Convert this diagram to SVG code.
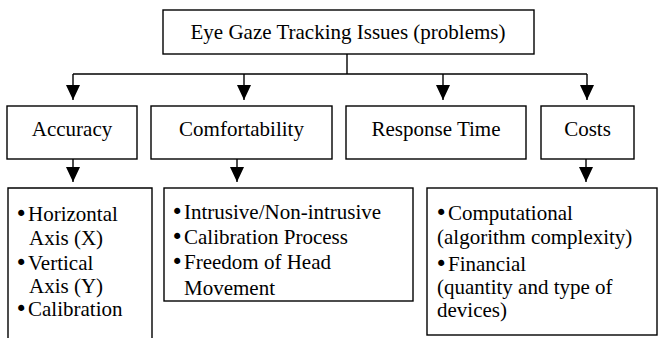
<svg xmlns="http://www.w3.org/2000/svg" width="660" height="338" viewBox="0 0 660 338">
  <defs>
    <style>
      .box { fill: #fff; stroke: #000; stroke-width: 1.4; }
      .lbl { font-family: "Liberation Serif", "Times New Roman", serif; font-size: 21px; fill: #000; }
      .dot { font-family: "DejaVu Sans", sans-serif; }
      .mid { text-anchor: middle; }
      .wire { fill: none; stroke: #000; stroke-width: 1.4; }
    </style>
    <marker id="head" viewBox="0 0 15 14" refX="15" refY="7" markerWidth="15" markerHeight="14" markerUnits="userSpaceOnUse" orient="auto">
      <path d="M0,0 L15,7 L0,14 Z" fill="#000"/>
    </marker>
    <clipPath id="clipComfort">
      <rect x="160" y="186" width="260" height="111"/>
    </clipPath>
  </defs>

  <!-- connectors -->
  <g id="connectors" class="wire">
    <path d="M347,54 V74"/>
    <path d="M73,74 H587"/>
    <path d="M73,74 V100" marker-end="url(#head)"/>
    <path d="M244,74 V100" marker-end="url(#head)"/>
    <path d="M443,74 V100" marker-end="url(#head)"/>
    <path d="M587,74 V100" marker-end="url(#head)"/>
    <path d="M73,159 V182" marker-end="url(#head)"/>
    <path d="M237,159 V182" marker-end="url(#head)"/>
    <path d="M586,159 V182" marker-end="url(#head)"/>
  </g>

  <g id="root">
    <rect class="box" x="163" y="10" width="371" height="44"/>
    <text class="lbl mid" x="348" y="39">Eye Gaze Tracking Issues (problems)</text>
  </g>

  <g id="accuracy">
    <rect class="box" x="7" y="106" width="130" height="53"/>
    <text class="lbl mid" x="72" y="136">Accuracy</text>
  </g>
  <g id="comfortability">
    <rect class="box" x="151" y="106" width="181" height="53"/>
    <text class="lbl mid" x="241.5" y="136">Comfortability</text>
  </g>
  <g id="response-time">
    <rect class="box" x="346" y="106" width="180" height="53"/>
    <text class="lbl mid" x="436" y="136">Response Time</text>
  </g>
  <g id="costs">
    <rect class="box" x="541" y="106" width="93" height="53"/>
    <text class="lbl mid" x="587.5" y="136">Costs</text>
  </g>

  <g id="accuracy-items">
    <path class="wire" d="M8,340 V188 H152 V340"/>
    <text class="lbl" y="221"><tspan class="dot" x="15">•</tspan><tspan x="28">Horizontal</tspan></text>
    <text class="lbl" x="29" y="244.5">Axis (X)</text>
    <text class="lbl" y="270"><tspan class="dot" x="15">•</tspan><tspan x="28">Vertical</tspan></text>
    <text class="lbl" x="29" y="293">Axis (Y)</text>
    <text class="lbl" y="316"><tspan class="dot" x="15">•</tspan><tspan x="28">Calibration</tspan></text>
  </g>

  <g id="comfortability-items">
    <rect class="box" x="164" y="188" width="249" height="113"/>
    <g clip-path="url(#clipComfort)">
      <text class="lbl" y="219"><tspan class="dot" x="171">•</tspan><tspan x="184">Intrusive/Non-intrusive</tspan></text>
      <text class="lbl" y="244"><tspan class="dot" x="171">•</tspan><tspan x="184">Calibration Process</tspan></text>
      <text class="lbl" y="269"><tspan class="dot" x="171">•</tspan><tspan x="184">Freedom of Head</tspan></text>
      <text class="lbl" x="184" y="295">Movement</text>
    </g>
  </g>

  <g id="costs-items">
    <rect class="box" x="427" y="188" width="230" height="147"/>
    <text class="lbl" y="220"><tspan class="dot" x="435">•</tspan><tspan x="448">Computational</tspan></text>
    <text class="lbl" x="437" y="244">(algorithm complexity)</text>
    <text class="lbl" y="270.5"><tspan class="dot" x="435">•</tspan><tspan x="448">Financial</tspan></text>
    <text class="lbl" x="437" y="294">(quantity and type of</text>
    <text class="lbl" x="437" y="317">devices)</text>
  </g>
</svg>
